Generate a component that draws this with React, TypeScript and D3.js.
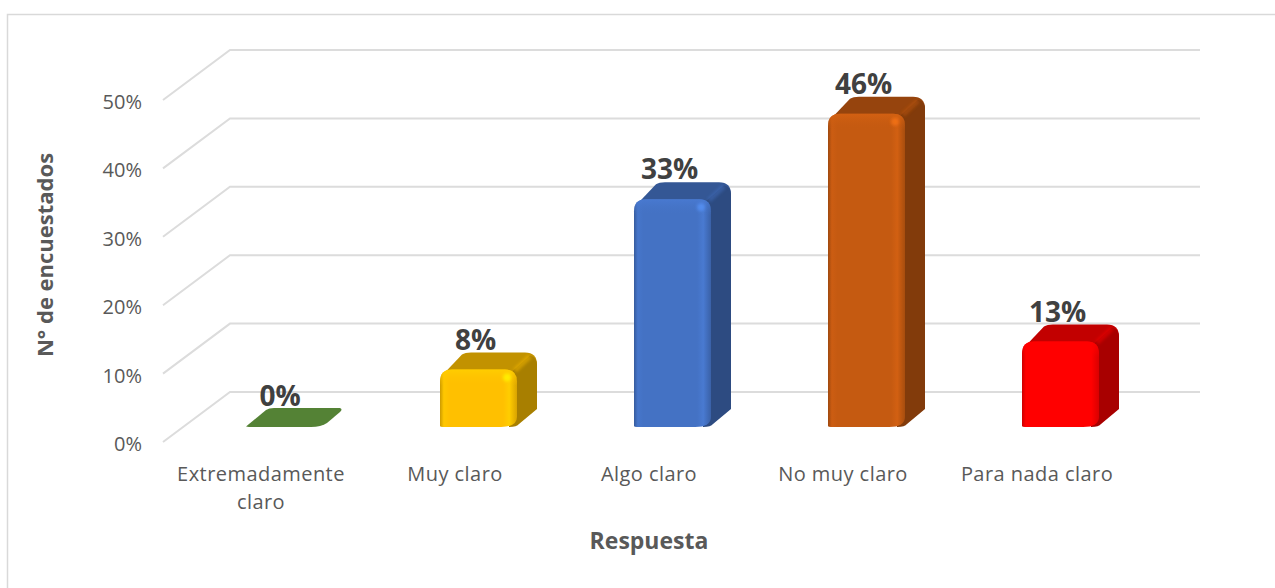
import React from "react";
import * as d3 from "d3";

const categories = ["Extremadamente claro", "Muy claro", "Algo claro", "No muy claro", "Para nada claro"];
const categoryLines = [["Extremadamente", "claro"], ["Muy claro"], ["Algo claro"], ["No muy claro"], ["Para nada claro"]];
const values = [0, 8.4, 33.3, 45.8, 12.5];
const frontColors = ["#548235", "#ffc000", "#4472c4", "#c55a11", "#ff0000"];
const yTicks = [0, 10, 20, 30, 40, 50];
const yAxisTitle = "N° de encuestados";
const xAxisTitle = "Respuesta";

const W = 1275, H = 588;
const font = "'Open Sans', sans-serif";
const floorDx = 67, floorDy = -50;
const yFront = d3.scaleLinear().domain([0, 50]).range([442, 100]);
const x = d3.scaleBand<string>().domain(categories).range([164, 1134]);
const barW = 77, dx = 20, dy = 17, r = 12;
const barBase = 427;
const barOffset = 82;

function scaleCol(c: string, k: number) {
  const q = d3.rgb(c);
  return d3.rgb(q.r * k, q.g * k, q.b * k).formatHex();
}
function lighten(c: string, k: number) { return d3.rgb(c).brighter(k).formatHex(); }

function Bar({ i }: { i: number }) {
  const c = frontColors[i];
  const left = x(categories[i])! + barOffset;
  const h = yFront(0) - yFront(values[i]);
  const top = barBase - h;
  const right = left + barW;
  const topCol = scaleCol(c, 0.76);
  const sideCol = scaleCol(c, 0.66);
  const label = Math.round(values[i]) + "%";
  if (values[i] === 0) {
    const d = `M${left},${barBase - 0.5} L${left + 20},${barBase - 17} Q${left + 23},${barBase - 19} ${left + 28},${barBase - 19}
      L${right + 17},${barBase - 19} Q${right + 20},${barBase - 18} ${right + 17},${barBase - 15}
      L${right + 4},${barBase - 4} Q${right - 2},${barBase} ${right - 12},${barBase}
      L${left + 3},${barBase} Z`;
    return (
      <g>
        <path d={d} fill={c} />
        <text x={left + 34} y={406} textAnchor="middle" fontFamily={font} fontWeight={700} fontSize={28} fill="#404040">{label}</text>
      </g>
    );
  }
  const topPath = `M${left + 3},${top + 5} L${left + 22},${top - dy + 2} Q${left + 25},${top - dy} ${left + 31},${top - dy}
    L${right + dx - 12},${top - dy} Q${right + dx},${top - dy} ${right + dx},${top - dy + 12}
    L${right},${top + 14} L${left + 14},${top + 14} Z`;
  const sidePath = `M${right - 6},${top + 3} L${right + dx - 7},${top - dy + 3} Q${right + dx},${top - dy + 5} ${right + dx},${top - dy + 12}
    L${right + dx},${barBase - dy - 1} L${right + 2},${barBase - 3} Q${right},${barBase} ${right - 8},${barBase} L${right - 8},${top + 6} Z`;
  const front = `M${left},${barBase - 1} L${left},${top + r} Q${left},${top} ${left + r},${top}
    L${right - r},${top} Q${right},${top} ${right},${top + r}
    L${right},${barBase - 10} Q${right},${barBase} ${right - 16},${barBase} L${left + 3},${barBase} Q${left},${barBase} ${left},${barBase - 1} Z`;
  return (
    <g>
      <path d={topPath} fill={topCol} />
      <path d={sidePath} fill={sideCol} />
      <path d={`M${right - 2},${top + 1} L${right + dx - 7},${top - dy + 4}`} stroke={c} strokeWidth={5} opacity={0.45} filter="url(#blur2)" />
      <path d={front} fill={`url(#h${i})`} />
      <path d={front} fill={`url(#v${i})`} />
      <circle cx={right - 10} cy={top + 8} r={4} fill={lighten(c, 0.8)} opacity={0.65} filter="url(#blur1)" />
      <text x={left + barW / 2 - 3} y={top - 20} textAnchor="middle" fontFamily={font} fontWeight={700} fontSize={28} fill="#404040">{label}</text>
    </g>
  );
}

export default function App() {
  return (
    <svg width={W} height={H} viewBox={`0 0 ${W} ${H}`} style={{ position: "fixed", left: 0, top: 0, background: "#fff" }}>
      <defs>
        <filter id="blur1" x="-100%" y="-100%" width="300%" height="300%"><feGaussianBlur stdDeviation="1.5" /></filter>
        <filter id="blur2" x="-50%" y="-50%" width="200%" height="200%"><feGaussianBlur stdDeviation="1.5" /></filter>
        {frontColors.map((c, i) => (
          <React.Fragment key={c}>
            <linearGradient id={`h${i}`} x1="0" x2="1" y1="0" y2="0">
              <stop offset="0" stopColor={scaleCol(c, 0.8)} />
              <stop offset="0.05" stopColor={lighten(c, 0.1)} />
              <stop offset="0.12" stopColor={c} />
              <stop offset="0.82" stopColor={c} />
              <stop offset="0.9" stopColor={lighten(c, 0.18)} />
              <stop offset="1" stopColor={scaleCol(c, 0.85)} />
            </linearGradient>
            <linearGradient id={`v${i}`} gradientUnits="userSpaceOnUse" x1="0" x2="0"
              y1={barBase - (yFront(0) - yFront(values[i]))} y2={barBase - (yFront(0) - yFront(values[i])) + 16}>
              <stop offset="0" stopColor={lighten(c, 0.2)} stopOpacity={0.9} />
              <stop offset="1" stopColor={c} stopOpacity={0} />
            </linearGradient>
          </React.Fragment>
        ))}
      </defs>
      <path d={`M7.5,588 V14.5 H1275`} fill="none" stroke="#d9d9d9" strokeWidth={1.5} />
      {yTicks.map((t) => (
        <g key={t}>
          <path d={`M${163},${yFront(t)} L${163 + floorDx},${yFront(t) + floorDy} H1200`} fill="none" stroke="#dcdcdc" strokeWidth={2} />
          <text x={142} y={yFront(t) + 9} textAnchor="end" fontFamily={font} fontSize={20} fill="#595959">{t}%</text>
        </g>
      ))}
      {categories.map((_, i) => <Bar key={i} i={i} />)}
      {categories.map((c, i) => (
        <text key={c} textAnchor="middle" fontFamily={font} fontSize={20} letterSpacing={0.45} fill="#595959">
          {categoryLines[i].map((l, j) => (
            <tspan key={l} x={x(c)! + x.bandwidth() / 2} y={481 + j * 28}>{l}</tspan>
          ))}
        </text>
      ))}
      <text x={649} y={549} textAnchor="middle" fontFamily={font} fontWeight={700} fontSize={23} fill="#595959">{xAxisTitle}</text>
      <text transform="translate(53,255) rotate(-90)" textAnchor="middle" fontFamily={font} fontWeight={700} fontSize={22} fill="#595959">{yAxisTitle}</text>
    </svg>
  );
}
